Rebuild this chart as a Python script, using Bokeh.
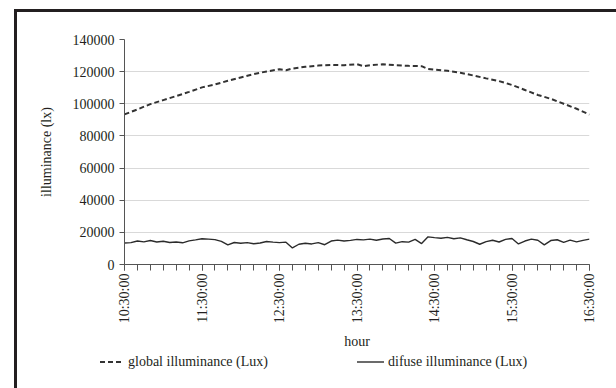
from bokeh.plotting import figure
from bokeh.layouts import column
from bokeh.models import FixedTicker, PrintfTickFormatter, Div
from bokeh.embed import file_html
from bokeh.resources import INLINE

# ---- data -------------------------------------------------------------
# minutes after 10:30:00
diffuse_minutes = list(range(0, 361, 5))
diffuse_lux = [
    13400, 13600, 14600, 14100, 14900, 14000, 14500, 13700, 14000, 13500,
    14700, 15300, 16000, 15800, 15500, 14400, 12200, 13700, 13200, 13600,
    12900, 13400, 14300, 13900, 13600, 13900, 10300, 12600, 13200, 12800,
    13600, 12300, 14600, 15200, 14600, 15000, 15600, 15300, 15800, 15100,
    15900, 16200, 13300, 14200, 13900, 15600, 13000, 17200, 16700, 16300,
    16900, 16000, 16600, 15400, 14300, 12600, 14200, 15100, 14000, 15600,
    16200, 12800, 14600, 15800, 15100, 12200, 14900, 15400, 13800, 15200,
    14100, 15000, 15800,
]

global_minutes = [0, 10, 20, 30, 40, 50, 60, 70, 80, 90, 100, 110, 120, 125,
                  130, 140, 150, 160, 170, 180, 185, 190, 200, 210, 220, 230,
                  235, 240, 250, 260, 270, 280, 290, 300, 310, 320, 330, 340,
                  350, 360]
global_lux = [93400, 96500, 99800, 102300, 104800, 107400, 110200, 112000,
              114300, 116400, 118500, 120100, 121500, 120900, 121900, 123000,
              123800, 124200, 124000, 124600, 123400, 124000, 124600, 124000,
              123600, 123400, 121700, 121300, 120500, 119300, 117600, 115800,
              114100, 111700, 108600, 105500, 103100, 100000, 96900, 93300]

hour_tick_minutes = [0, 60, 120, 180, 240, 300, 360]
hour_labels = ["10:30:00", "11:30:00", "12:30:00", "13:30:00",
               "14:30:00", "15:30:00", "16:30:00"]
minor_tick_minutes = list(range(0, 361, 10))
y_ticks = [0, 20000, 40000, 60000, 80000, 100000, 120000, 140000]
series_names = ["global illuminance (Lux)", "difuse illuminance (Lux)"]

FONT = "Liberation Serif"
TXT = "#231f20"
GLOBAL_COLOR, GLOBAL_WIDTH, GLOBAL_DASH = "#333333", 2, "5 3"
DIFF_COLOR, DIFF_WIDTH = "#2b2b2b", 1.4

# ---- main figure --------------------------------------------------------
p = figure(width=599, height=340, x_range=(0, 360), y_range=(0, 140000),
           output_backend="svg", toolbar_location=None,
           min_border_left=107, min_border_right=27,
           min_border_top=27, min_border_bottom=85)
p.outline_line_color = None
p.background_fill_color = "white"
p.border_fill_color = "white"

p.line(global_minutes, global_lux, line_color=GLOBAL_COLOR,
       line_width=GLOBAL_WIDTH, line_dash=GLOBAL_DASH)
p.line(diffuse_minutes, diffuse_lux, line_color=DIFF_COLOR,
       line_width=DIFF_WIDTH)

# y axis
p.yaxis.ticker = FixedTicker(ticks=y_ticks)
p.yaxis.formatter = PrintfTickFormatter(format="%d")
p.yaxis.axis_label = "illuminance (lx)"
p.yaxis.major_tick_out = 5
p.yaxis.major_tick_in = 0
p.yaxis.minor_tick_out = 0
p.yaxis.minor_tick_in = 0
p.yaxis.major_label_standoff = 5
p.yaxis.axis_label_standoff = 16

# x axis
p.xaxis.ticker = FixedTicker(ticks=hour_tick_minutes,
                             minor_ticks=minor_tick_minutes)
p.xaxis.major_label_overrides = {t: s for t, s in zip(hour_tick_minutes, hour_labels)}
p.xaxis.major_label_orientation = 1.5707963
p.xaxis.axis_label = "hour"
p.xaxis.major_tick_out = 6
p.xaxis.major_tick_in = 0
p.xaxis.minor_tick_out = 6
p.xaxis.minor_tick_in = 0
p.xaxis.major_label_standoff = 3
p.xaxis.axis_label_standoff = 8

for ax in (p.xaxis, p.yaxis):
    ax.axis_line_color = "#555555"
    ax.major_tick_line_color = "#555555"
    ax.minor_tick_line_color = "#555555"
    ax.major_label_text_font = FONT
    ax.major_label_text_font_size = "14px"
    ax.major_label_text_color = TXT
    ax.axis_label_text_font = FONT
    ax.axis_label_text_font_size = "14px"
    ax.axis_label_text_font_style = "normal"
    ax.axis_label_text_color = TXT

p.xgrid.grid_line_color = None
p.ygrid.grid_line_color = "#d9d9d9"
p.ygrid.grid_line_width = 1

# ---- legend strip (below the chart, as in the original) -----------------
def swatch(w, dash):
    dash_attr = f' stroke-dasharray="{dash}"' if dash else ""
    width = GLOBAL_WIDTH if dash else DIFF_WIDTH
    color = GLOBAL_COLOR if dash else DIFF_COLOR
    return (f'<svg width="{w}" height="16" style="display:block">'
            f'<line x1="0" y1="8" x2="{w}" y2="8" stroke="{color}" '
            f'stroke-width="{width}"{dash_attr}/></svg>')

legend_html = (
    f'<div style="position:relative;width:599px;height:36px;'
    f'font-family:\'{FONT}\';font-size:14px;line-height:16px;color:{TXT};">'
    f'<div style="position:absolute;left:83px;top:2px">{swatch(24, GLOBAL_DASH)}</div>'
    f'<div style="position:absolute;left:111px;top:2px;white-space:nowrap">{series_names[0]}</div>'
    f'<div style="position:absolute;left:340px;top:2px">{swatch(27, None)}</div>'
    f'<div style="position:absolute;left:371px;top:2px;white-space:nowrap">{series_names[1]}</div>'
    f'</div>'
)
legend_div = Div(text=legend_html, width=599, height=36,
                 styles={"margin": "0", "padding": "0"})

layout = column(p, legend_div, spacing=0,
                styles={"border-left": "3px solid #231f20",
                        "border-top": "3px solid #231f20",
                        "margin-left": "14px", "margin-top": "9px"})

open("out.html", "w").write(file_html(layout, INLINE))
